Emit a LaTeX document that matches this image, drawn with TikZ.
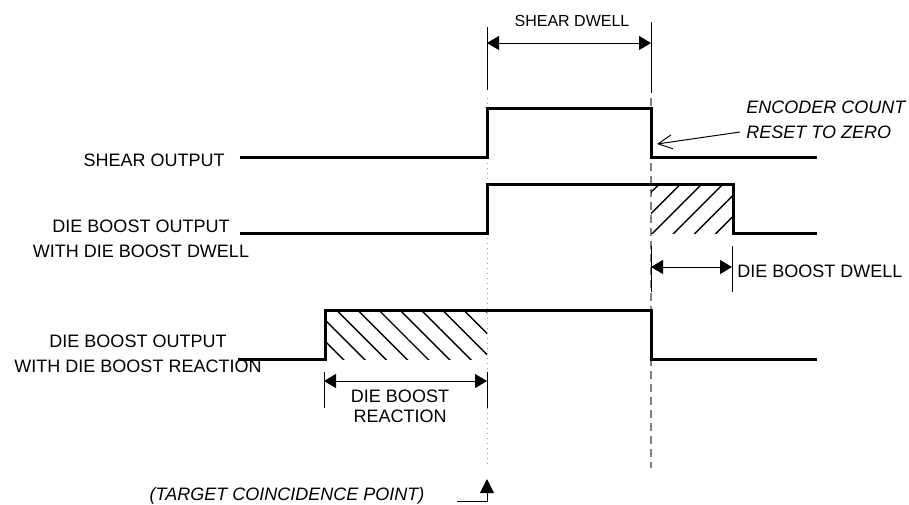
\documentclass[tikz,border=0pt]{standalone}
\usepackage{fontspec}
\setmainfont{Liberation Sans}
\usetikzlibrary{arrows.meta, patterns.meta}
\definecolor{dGray}{HTML}{808080}
\definecolor{lGray}{HTML}{A0A0A0}

\begin{document}
\begin{tikzpicture}[x=0.5pt, y=-0.5pt,
  signal/.style={line width=1.5pt, line join=miter},
  ext/.style={line width=0.5pt},
  dim/.style={line width=0.5pt,
              {Triangle[length=6pt,width=7pt]}-{Triangle[length=6pt,width=7pt]}},
  lbl/.style={font=\fontsize{9}{12.5}\selectfont, inner sep=0pt, align=center},
  ilbl/.style={lbl, font=\fontsize{9}{12.5}\selectfont\itshape},
  hatch/.style={pattern={Lines[angle=#1, distance=7.5pt, line width=0.7pt]}},
]
  \useasboundingbox (0,0) rectangle (909,504);

  % timing references
  \coordinate (tgtTop) at (487,98);
  \coordinate (tgtBot) at (487,466);
  \coordinate (rstTop) at (651,98);
  \coordinate (rstBot) at (651,468);
  \draw[lGray, line width=0.5pt, dotted] (tgtTop) -- (tgtBot);
  \draw[dGray, line width=0.75pt, dash pattern=on 4pt off 2.5pt] (rstTop) -- (rstBot);

  \fill[hatch=45]  (651,184) rectangle (733,233);
  \fill[hatch=-45] (325,310) rectangle (487,359);

  \draw[signal] (240,157) -- (487,157) -- (487,108) -- (651,108) -- (651,157) -- (817,157);
  \draw[signal] (240,233) -- (487,233) -- (487,184) -- (733,184) -- (733,233) -- (817,233);
  \draw[signal] (238,359) -- (325,359) -- (325,310) -- (651,310) -- (651,359) -- (817,359);

  \node[lbl, anchor=base east] (shearLbl) at (225,166) {SHEAR OUTPUT};
  \node[lbl] (dwellLbl) at (141,239) {DIE BOOST OUTPUT\\WITH DIE BOOST DWELL};
  \node[lbl] (reactLbl) at (138,354) {DIE BOOST OUTPUT\\WITH DIE BOOST REACTION};

  % shear dwell
  \coordinate (sdA) at (487,27);  \coordinate (sdA') at (487,90);
  \coordinate (sdB) at (651,22);  \coordinate (sdB') at (651,93);
  \draw[ext] (sdA) -- (sdA');
  \draw[ext] (sdB) -- (sdB');
  \draw[dim] (sdA |- 0,43) -- (sdB |- 0,43);
  \node[lbl, font=\fontsize{8}{10}\selectfont] (shearDwell) at (572,21) {SHEAR DWELL};

  % die boost dwell
  \coordinate (ddA) at (651,246); \coordinate (ddA') at (651,292);
  \coordinate (ddB) at (732,246); \coordinate (ddB') at (732,292);
  \draw[ext] (ddA) -- (ddA');
  \draw[ext] (ddB) -- (ddB');
  \draw[dim] (ddA |- 0,267) -- (ddB |- 0,267);
  \node[lbl, anchor=west] (dwellDim) at (737,271) {DIE BOOST DWELL};

  % die boost reaction
  \coordinate (drA) at (324,372); \coordinate (drA') at (324,408);
  \coordinate (drB) at (487,372); \coordinate (drB') at (487,408);
  \draw[ext] (drA) -- (drA');
  \draw[ext] (drB) -- (drB');
  \draw[dim] (drA |- 0,381) -- (drB |- 0,381);
  \node[lbl, font=\fontsize{9}{10}\selectfont] (reactDim) at (400,406) {DIE BOOST\\REACTION};

  % encoder reset
  \node[ilbl, anchor=west, align=left] (encoder) at (746,119.5) {ENCODER COUNT\\RESET TO ZERO};
  \coordinate (encTail) at (740,132);
  \coordinate (encTip) at (657,144);
  \draw[line width=0.5pt, -{Straight Barb[length=7pt,width=7pt]}] (encTail) -- (encTip);

  % target coincidence
  \node[ilbl, anchor=base] (target) at (287,500) {(TARGET COINCIDENCE POINT)};
  \coordinate (tgtTail) at (457,501);
  \coordinate (tgtTip) at (487,479);
  \draw[line width=0.5pt, -{Triangle[length=7pt,width=7pt]}] (tgtTail) -| (tgtTip);
\end{tikzpicture}
\end{document}
